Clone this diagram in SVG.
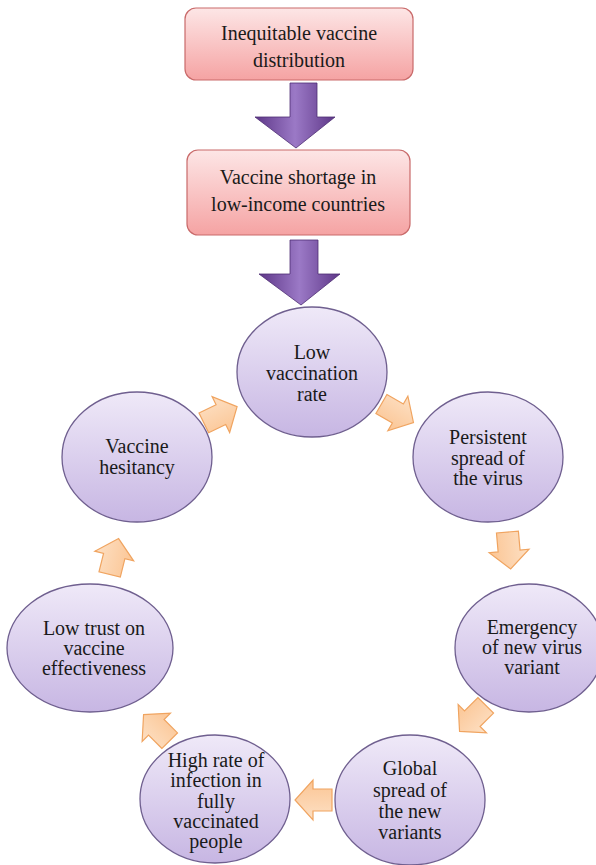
<svg xmlns="http://www.w3.org/2000/svg" xmlns:xlink="http://www.w3.org/1999/xlink" width="596" height="865" viewBox="0 0 596 865">
  <defs>
    <linearGradient id="pink" x1="0" y1="0" x2="0" y2="1">
      <stop offset="0" stop-color="#fde6e6"/>
      <stop offset="1" stop-color="#f5a3a3"/>
    </linearGradient>
    <linearGradient id="lav" x1="0" y1="0" x2="0" y2="1">
      <stop offset="0" stop-color="#efe9f8"/>
      <stop offset="1" stop-color="#c7b6e3"/>
    </linearGradient>
    <linearGradient id="purp" x1="0" y1="0" x2="1" y2="0">
      <stop offset="0" stop-color="#5e3788"/>
      <stop offset="0.5" stop-color="#9b79c6"/>
      <stop offset="1" stop-color="#5e3788"/>
    </linearGradient>
    <linearGradient id="orng" x1="0" y1="0" x2="0" y2="1">
      <stop offset="0" stop-color="#fde0c4"/>
      <stop offset="1" stop-color="#fbc594"/>
    </linearGradient>
    <path id="oarr" d="M-18,-11 L1,-11 L1,-20 L19,0 L1,20 L1,11 L-18,11 Z"/>
    <style>
      .box { fill: url(#pink); stroke: #c96a6a; stroke-width: 1.2; }
      .circ { fill: url(#lav); stroke: #6f5f8f; stroke-width: 1.3; }
      .big { fill: url(#purp); stroke: #4e2d74; stroke-width: 0.8; }
      .sm { fill: url(#orng); stroke: #f0a460; stroke-width: 1.2; }
      .t { font-size: 20px; fill: #1a1a1a; text-anchor: middle; }
    </style>
  </defs>
  <rect width="596" height="865" fill="#ffffff"/>

  <g id="connectors">
    <path class="big" d="M290,83 L317,83 L317,117 L335,117 L296,148 L255,117 L290,117 Z"/>
    <path class="big" d="M290,240 L318,240 L318,274 L340,274 L301,305 L259,274 L290,274 Z"/>
    <use xlink:href="#oarr" class="sm" transform="translate(220,415) rotate(-26)"/>
    <use xlink:href="#oarr" class="sm" transform="translate(397,413) rotate(30)"/>
    <use xlink:href="#oarr" class="sm" transform="translate(509,550) rotate(85)"/>
    <use xlink:href="#oarr" class="sm" transform="translate(473,718) rotate(135)"/>
    <use xlink:href="#oarr" class="sm" transform="translate(314,800) rotate(180)"/>
    <use xlink:href="#oarr" class="sm" transform="translate(157,728) rotate(225)"/>
    <use xlink:href="#oarr" class="sm" transform="translate(114,557) rotate(-76)"/>
  </g>

  <g class="t" font-family="'Liberation Serif', 'DejaVu Serif', serif">
  <g id="n-inequitable">
    <rect class="box" x="185" y="8" width="228" height="72" rx="11"/>
    <text x="299" y="40">Inequitable vaccine</text>
    <text x="299" y="67">distribution</text>
  </g>
  <g id="n-shortage">
    <rect class="box" x="187" y="150" width="223" height="85" rx="11"/>
    <text x="298" y="184">Vaccine shortage in</text>
    <text x="298" y="211">low-income countries</text>
  </g>

  <g id="n-lowvacc">
    <ellipse class="circ" cx="312" cy="372" rx="75" ry="65"/>
    <text x="312" y="359">Low</text>
    <text x="312" y="380">vaccination</text>
    <text x="312" y="401">rate</text>
  </g>
  <g id="n-persistent">
    <ellipse class="circ" cx="488" cy="457" rx="75" ry="65"/>
    <text x="488" y="444">Persistent</text>
    <text x="488" y="465">spread of</text>
    <text x="488" y="485">the virus</text>
  </g>
  <g id="n-emergency">
    <ellipse class="circ" cx="529" cy="648" rx="74" ry="64"/>
    <text x="532" y="634">Emergency</text>
    <text x="532" y="654">of new virus</text>
    <text x="532" y="674">variant</text>
  </g>
  <g id="n-global">
    <ellipse class="circ" cx="410" cy="800" rx="75" ry="65"/>
    <text x="410" y="775">Global</text>
    <text x="410" y="797">spread of</text>
    <text x="410" y="818">the new</text>
    <text x="410" y="839">variants</text>
  </g>
  <g id="n-highrate">
    <ellipse class="circ" cx="215" cy="799" rx="75" ry="64"/>
    <text x="216" y="767">High rate of</text>
    <text x="216" y="787">infection in</text>
    <text x="216" y="808">fully</text>
    <text x="216" y="828">vaccinated</text>
    <text x="216" y="848">people</text>
  </g>
  <g id="n-lowtrust">
    <ellipse class="circ" cx="90" cy="648" rx="83" ry="64"/>
    <text x="94" y="635">Low trust on</text>
    <text x="94" y="655">vaccine</text>
    <text x="94" y="675">effectiveness</text>
  </g>
  <g id="n-hesitancy">
    <ellipse class="circ" cx="137" cy="457" rx="75" ry="65"/>
    <text x="137" y="453">Vaccine</text>
    <text x="137" y="474">hesitancy</text>
  </g>
  </g>
</svg>
